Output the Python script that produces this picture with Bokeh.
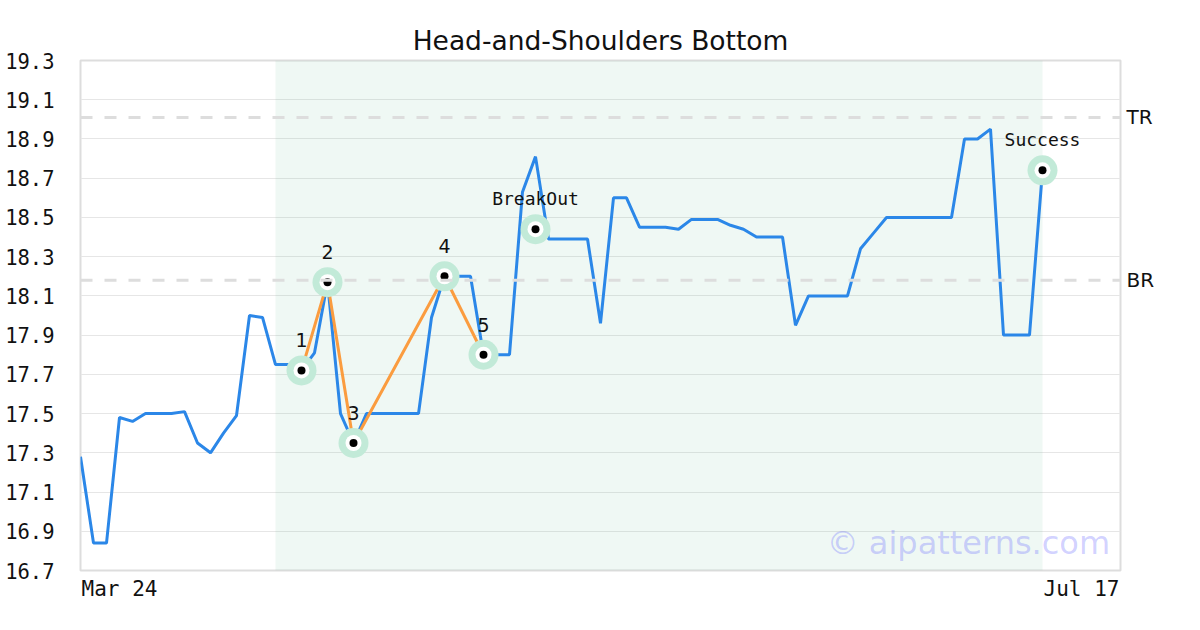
from bokeh.plotting import figure
from bokeh.models import FixedTicker, Span, BoxAnnotation, Label, ColumnDataSource, LinearAxis
from bokeh.embed import file_html
from bokeh.resources import INLINE

# ---- data ----
prices = [17.28, 16.84, 16.84, 17.48, 17.46, 17.50, 17.50, 17.50, 17.51, 17.35,
          17.30, 17.40, 17.49, 18.00, 17.99, 17.75, 17.75, 17.72, 17.81, 18.17,
          17.50, 17.35, 17.50, 17.50, 17.50, 17.50, 17.50, 17.99, 18.20, 18.20,
          18.20, 17.80, 17.80, 17.80, 18.63, 18.81, 18.39, 18.39, 18.39, 18.39,
          17.96, 18.60, 18.60, 18.45, 18.45, 18.45, 18.44, 18.49, 18.49, 18.49,
          18.46, 18.44, 18.40, 18.40, 18.40, 17.95, 18.10, 18.10, 18.10, 18.10,
          18.34, 18.42, 18.50, 18.50, 18.50, 18.50, 18.50, 18.50, 18.90, 18.90,
          18.95, 17.90, 17.90, 17.90, 18.74, 18.74]
days = list(range(len(prices)))

pattern_idx = [17, 19, 21, 28, 31]
pattern_val = [17.72, 18.17, 17.35, 18.20, 17.80]
pattern_lbl = ["1", "2", "3", "4", "5"]

event_idx = [35, 74]
event_val = [18.44, 18.74]
event_lbl = ["BreakOut", "Success"]

level_vals = [19.01, 18.18]
level_lbl = ["TR", "BR"]
shade_start, shade_end = 15, 74

y_ticks = [16.7, 16.9, 17.1, 17.3, 17.5, 17.7, 17.9, 18.1, 18.3, 18.5, 18.7, 18.9, 19.1, 19.3]
x_tick_pos = [3, 77]
x_tick_lbl = ["Mar 24", "Jul 17"]

MONO = "DejaVu Sans Mono"
SANS = "DejaVu Sans"

p = figure(width=1192, height=622, output_backend="svg", toolbar_location=None,
           x_range=(0, 80), y_range=(16.7, 19.3),
           min_border_left=80, min_border_right=72, min_border_top=60, min_border_bottom=52,
           title="Head-and-Shoulders Bottom")
p.title.align = "center"
p.title.text_font = SANS
p.title.text_font_size = "26.5px"
p.title.text_font_style = "normal"
p.title.text_color = "#111111"
p.title.offset = 0
p.title.standoff = 9

p.outline_line_color = "#dddddd"
p.outline_line_width = 2
p.background_fill_color = "white"
p.border_fill_color = "white"

p.xgrid.visible = False
p.ygrid.grid_line_color = "#e6e6e6"
p.ygrid.grid_line_width = 1

p.yaxis.ticker = FixedTicker(ticks=y_ticks)
p.yaxis.major_label_overrides = {t: f"{t:.1f}" for t in y_ticks}
p.xaxis.ticker = FixedTicker(ticks=x_tick_pos)
p.xaxis.major_label_overrides = {t: l for t, l in zip(x_tick_pos, x_tick_lbl)}

raxis = LinearAxis(ticker=FixedTicker(ticks=level_vals),
                   major_label_overrides={v: l for v, l in zip(level_vals, level_lbl)})
p.add_layout(raxis, "right")

p.xaxis[0].major_label_text_font = MONO
p.xaxis[0].major_label_text_font_size = "21px"
p.yaxis[0].major_label_text_font = MONO
p.yaxis[0].major_label_text_font_size = "20.5px"
for ax in (p.xaxis[0], p.yaxis[0], raxis):
    ax.axis_line_color = None
    ax.major_tick_line_color = None
    ax.minor_tick_line_color = None
    ax.major_label_text_color = "#111111"
raxis.major_label_text_font = SANS
raxis.major_label_text_font_size = "20px"
raxis.major_label_standoff = 0
p.yaxis[0].major_label_standoff = 20
p.xaxis[0].major_label_standoff = 0

p.add_layout(BoxAnnotation(left=shade_start, right=shade_end, fill_color="#5fb88f",
                           fill_alpha=0.1, line_color=None, level="underlay"))

for lvl in level_vals:
    p.add_layout(Span(location=lvl, dimension="width", line_color="#dddddd",
                      line_width=3, line_dash="12 12"))

p.line(days, prices, line_color="#2b87e8", line_width=3)
p.line(pattern_idx, pattern_val, line_color="#fb9c3f", line_width=3)

mx = pattern_idx + event_idx
my = pattern_val + event_val
p.scatter(mx, my, size=30, fill_color="#c2ead8", line_color=None)
p.scatter(mx, my, size=16, fill_color="white", line_color=None)
p.scatter(mx, my, size=8, fill_color="black", line_color=None)

src_p = ColumnDataSource(dict(x=pattern_idx, y=pattern_val, t=pattern_lbl))
p.text("x", "y", text="t", source=src_p, text_align="center", text_baseline="middle",
       y_offset=-30, text_font_size="19px", text_font={"value": SANS}, text_color="#111111")
src_e = ColumnDataSource(dict(x=event_idx, y=event_val, t=event_lbl))
p.text("x", "y", text="t", source=src_e, text_align="center", text_baseline="middle",
       y_offset=-31, text_font_size="18px", text_font={"value": MONO}, text_color="#111111")

p.add_layout(Label(x=79.2, y=16.84, text="© aipatterns.com", text_align="right",
                   text_baseline="middle", text_font=SANS, text_font_size="32px",
                   text_color="#6464ff", text_alpha=0.3))

open("out.html", "w").write(file_html(p, INLINE))
